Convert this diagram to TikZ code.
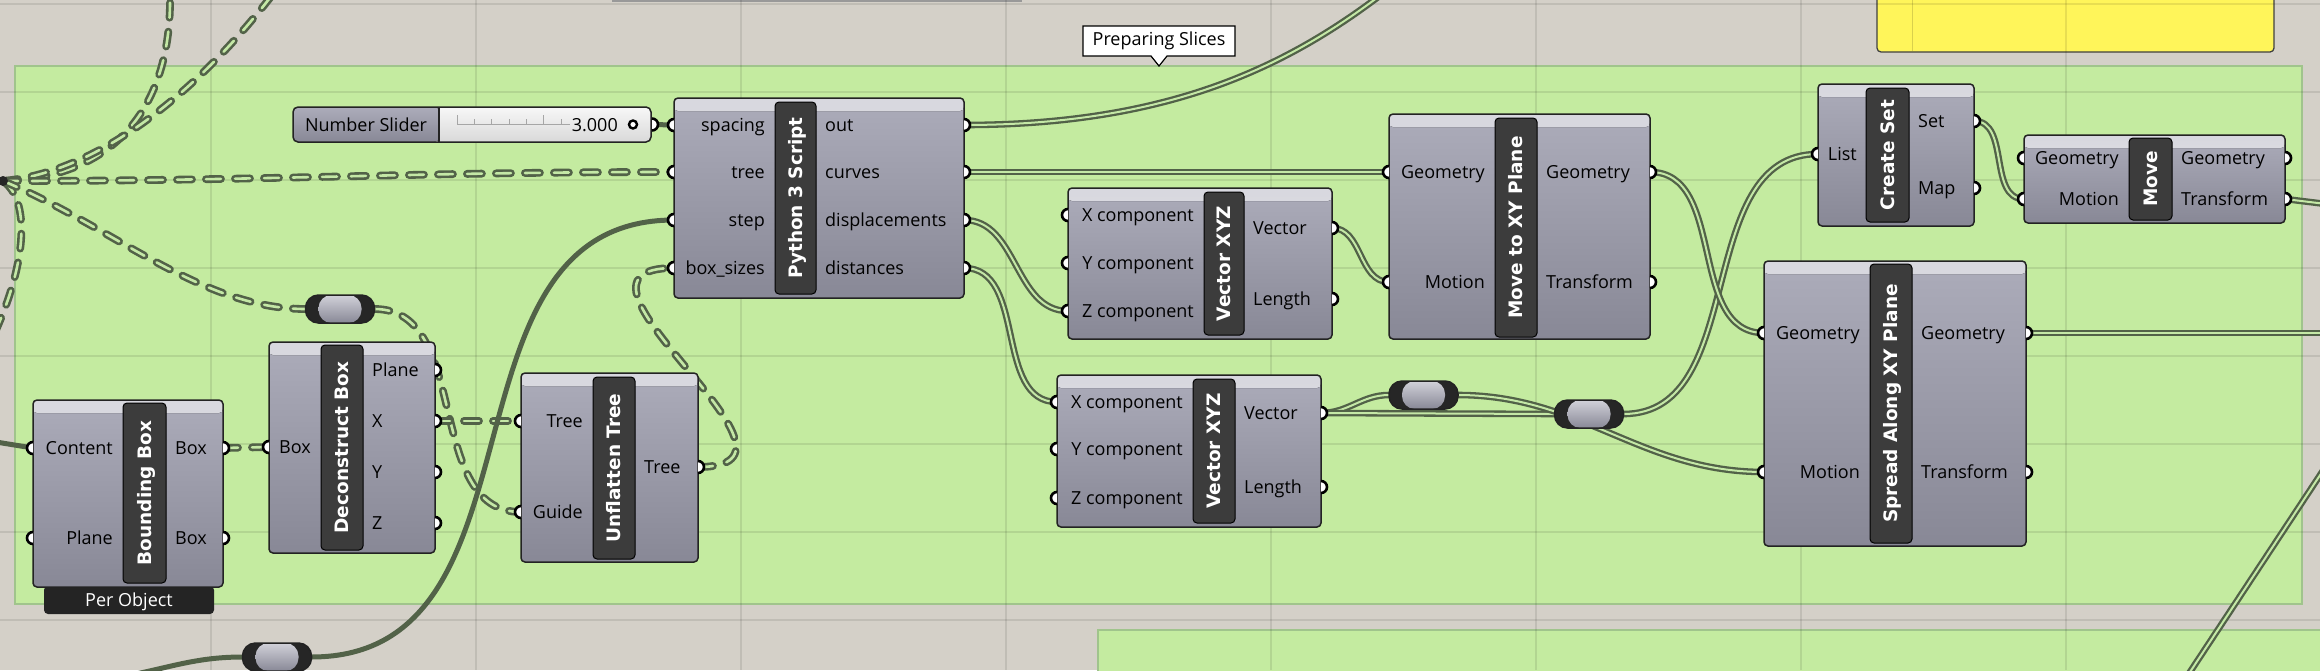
\documentclass[tikz,border=0pt]{standalone}
\usepackage{fontspec}
\newfontfamily\ghfont{DejaVu Sans}
\newfontfamily\labfam{Open Sans}
\newcommand{\labfont}{\labfam\fontsize{18}{20}\selectfont}
\newcommand{\barfont}{\ghfont\bfseries\fontsize{18.5}{20}\selectfont}
\usetikzlibrary{shapes.callouts}
\definecolor{canvas}{RGB}{212,208,200}
\definecolor{grpfill}{RGB}{196,235,160}
\definecolor{grpedge}{RGB}{160,196,140}
\definecolor{ghtop}{RGB}{172,172,186}
\definecolor{ghbot}{RGB}{136,136,150}
\definecolor{ghhi}{RGB}{234,234,238}
\definecolor{ghedge}{RGB}{35,35,35}
\definecolor{ghbar}{RGB}{60,60,60}
\definecolor{wirec}{RGB}{82,98,72}
\definecolor{wirein}{RGB}{196,232,166}
\definecolor{notey}{RGB}{255,245,90}
\tikzset{
  grp/.style={fill=grpfill, draw=grpedge, line width=1.5pt, inner sep=0pt},
  gridline/.style={draw=black, draw opacity=0.09, line width=1.5pt},
  comp/.style={draw=ghedge, line width=1.5pt, rounded corners=4pt, top color=ghtop, bottom color=ghbot, inner sep=0pt,
    path picture={\fill[top color=ghhi!70!ghtop, bottom color=ghhi] (path picture bounding box.north west) rectangle ([yshift=-13pt]path picture bounding box.north east);}},
  namebar/.style={draw=black, line width=1pt, fill=ghbar, rounded corners=4pt, rotate=90, inner sep=0pt,
    text=white, font=\barfont, text height=13.5pt, text depth=0pt},
  inlab/.style={anchor=east, inner sep=0pt, font=\labfont, text height=13pt, text depth=0pt},
  outlab/.style={anchor=west, inner sep=0pt, font=\labfont, text height=13pt, text depth=0pt},
  tab/.style={fill=black!86, rounded corners=4pt, inner sep=0pt, text=white, font=\labfont, text height=13pt, text depth=0pt},
  slider/.style={draw=ghedge, line width=1.5pt, rounded corners=5pt, top color=white!97!black, bottom color=black!15, inner sep=0pt,
    path picture={\fill[top color=ghtop, bottom color=ghbot] (path picture bounding box.north west) rectangle ([xshift=146pt]path picture bounding box.south west);
      \draw[ghedge, line width=1.3pt] ([xshift=146pt]path picture bounding box.north west) -- ([xshift=146pt]path picture bounding box.south west);}},
  relay/.style={draw=ghedge, line width=1.5pt, fill=black!85, minimum width=69pt, minimum height=28pt, rounded corners=13pt, inner sep=0pt,
    path picture={\fill[top color=ghhi!60!ghtop, bottom color=ghbot] ([xshift=13pt]path picture bounding box.north west) rectangle ([xshift=-13pt]path picture bounding box.south east);}},
  note/.style={fill=notey, draw=black!75, line width=1.3pt, rounded corners=4pt, inner sep=0pt},
  tag/.style={fill=white, draw=black, line width=1.2pt, inner sep=0pt, minimum width=152pt, minimum height=30pt, font=\labfont, callout pointer width=16pt},
  wire/.style={draw=wirec, line width=5pt},
  listwire/.style={draw=wirec, line width=2.3pt, double=wirein, double distance=2pt},
  treewire/.style={draw=wirec, line width=2.6pt, double=wirein, double distance=2.6pt, dash pattern=on 15pt off 14pt, line cap=round},
  inport/.pic={\filldraw[draw=black, fill=white, line width=2.6pt] (0,6) arc[start angle=90, end angle=270, radius=6];},
  outport/.pic={\filldraw[draw=black, fill=white, line width=2.6pt] (0,-6) arc[start angle=-90, end angle=90, radius=6];}
}
\begin{document}
\begin{tikzpicture}[x=1pt, y=1pt]
\useasboundingbox (0,0) rectangle (2320,-670);
\fill[canvas] (0,0) rectangle (2320,-670);

% things above the group
\draw[black!40, line width=1.5pt] (612,-1) -- (1022,-1);
\node[note, minimum width=397pt, minimum height=64pt] (note) at (2075.5,-20) {};
\draw[notey!85!black, line width=1pt] (1912,11) -- (1912,-51);

% groups and canvas grid
\node[grp, minimum width=2287pt, minimum height=538pt] (grp) at (1158.5,-335) {};
\node[grp, minimum width=1240pt, minimum height=80pt, anchor=north west] (grp2) at (1097,-629) {};
\foreach \x in {211,476,741,1006,1271,1536,1801,2066}
  \draw[gridline] (\x,0) -- (\x,-670);
\foreach \y in {4,92,180,268,356,444,532,620}
  \draw[gridline] (0,-\y) -- (2320,-\y);
\node[tag, rectangle callout, callout absolute pointer={(1159,-66)}] (tag) at (1159,-41) {Preparing Slices};

% free wire ends
\coordinate (src) at (3,-181);
\coordinate (up1) at (170,6);
\coordinate (up2) at (276,10);
\coordinate (dn) at (-4,-330);
\coordinate (lft) at (-4,-442);
\coordinate (bl) at (120,-677);
\coordinate (top1) at (1400,20);
\coordinate (rt1) at (2326,-204);
\coordinate (rt2) at (2326,-333);
\coordinate (rt3) at (2330,-460);
\coordinate (bt3) at (2186,-678);

% relay ends
\coordinate (r1-in) at (305.5,-309);   \coordinate (r1-out) at (374.5,-309);
\coordinate (r3-in) at (242.5,-657);   \coordinate (r3-out) at (311.5,-657);
\coordinate (r4-in) at (1389,-395);    \coordinate (r4-out) at (1458,-395);
\coordinate (r5-in) at (1554.5,-414);  \coordinate (r5-out) at (1623.5,-414);

% ports
\coordinate (sl-out) at (652,-124.5);
\coordinate (py-sp) at (674,-125);  \coordinate (py-out) at (964,-125);
\coordinate (py-tr) at (674,-172);  \coordinate (py-cv) at (964,-172);
\coordinate (py-st) at (674,-220);  \coordinate (py-dp) at (964,-220);
\coordinate (py-bs) at (674,-268);  \coordinate (py-ds) at (964,-268);
\coordinate (vx1-x) at (1068,-215); \coordinate (vx1-vec) at (1332,-228);
\coordinate (vx1-y) at (1068,-263); \coordinate (vx1-len) at (1332,-299);
\coordinate (vx1-z) at (1068,-311);
\coordinate (vx2-x) at (1057,-402); \coordinate (vx2-vec) at (1321,-413);
\coordinate (vx2-y) at (1057,-449); \coordinate (vx2-len) at (1321,-487);
\coordinate (vx2-z) at (1057,-498);
\coordinate (mxy-gi) at (1389,-172); \coordinate (mxy-go) at (1650,-172);
\coordinate (mxy-mi) at (1389,-282); \coordinate (mxy-to) at (1650,-282);
\coordinate (cs-li) at (1818,-154);  \coordinate (cs-set) at (1974,-121);
\coordinate (cs-map) at (1974,-188);
\coordinate (mv-gi) at (2024,-158);  \coordinate (mv-go) at (2285,-158);
\coordinate (mv-mi) at (2024,-199);  \coordinate (mv-to) at (2285,-199);
\coordinate (sp-gi) at (1764,-333);  \coordinate (sp-go) at (2026,-333);
\coordinate (sp-mi) at (1764,-472);  \coordinate (sp-to) at (2026,-472);
\coordinate (bb-ci) at (33,-448);    \coordinate (bb-b1) at (223,-448);
\coordinate (bb-pi) at (33,-538);    \coordinate (bb-b2) at (223,-538);
\coordinate (db-bi) at (269,-447);   \coordinate (db-pl) at (435,-370);
\coordinate (db-x) at (435,-421);    \coordinate (db-y) at (435,-472);
\coordinate (db-z) at (435,-523);
\coordinate (uf-ti) at (521,-421);   \coordinate (uf-to) at (698,-467);
\coordinate (uf-gi) at (521,-512);

% wires
\draw[treewire] (src) .. controls +(110,3) and +(2,-115) .. (up1);
\draw[treewire] (src) .. controls +(97,9) and +(-76,-100) .. (up2);
\draw[treewire] (src) .. controls +(27,-19) and +(31,70) .. (dn);
\draw[treewire] (src) to[out=0, in=180] (py-tr);
\draw[treewire] (src) .. controls +(107,-44) and +(-105,0) .. (r1-in);
\draw[treewire] (r1-out) to[out=0, in=180] (uf-gi);
\draw[treewire] (bb-b1) -- (db-bi);
\draw[treewire] (db-x) -- (uf-ti);
\draw[treewire] (uf-to) to[out=0, in=180, looseness=1.8] (py-bs);
\draw[wire] (lft) -- (bb-ci);
\draw[wire] (bl) to[out=10, in=180] (r3-in);
\draw[wire] (r3-out) to[out=0, in=180, looseness=1.1] (py-st);
\draw[wire] (sl-out) -- (py-sp);
\draw[listwire] (py-out) .. controls +(216,0) and +(-100,-80) .. (top1);
\draw[listwire] (py-cv) -- (mxy-gi);
\draw[listwire] (py-dp) to[out=0, in=180] (vx1-z);
\draw[listwire] (py-ds) to[out=0, in=180] (vx2-x);
\draw[listwire] (vx1-vec) to[out=0, in=180] (mxy-mi);
\draw[listwire] (vx2-vec) to[out=0, in=180] (r4-in);
\draw[listwire] (vx2-vec) -- (r5-in);
\draw[listwire] (r4-out) to[out=0, in=180] (sp-mi);
\draw[listwire] (r5-out) to[out=0, in=180] (cs-li);
\draw[listwire] (mxy-go) to[out=0, in=180] (sp-gi);
\draw[listwire] (cs-set) to[out=0, in=180] (mv-mi);
\draw[listwire] (mv-to) -- (rt1);
\draw[listwire] (sp-go) -- (rt2);
\draw[listwire] (rt3) -- (bt3);
\fill[black!85] (src) circle[radius=5];

% relays
\node[relay] (r1) at (340,-309) {};
\node[relay] (r3) at (277,-657) {};
\node[relay] (r4) at (1423.5,-395) {};
\node[relay] (r5) at (1589,-414) {};

% number slider
\node[slider, minimum width=358pt, minimum height=35pt] (sl) at (472,-124.5) {};
\node[font=\labfont, text height=13pt, text depth=0pt, inner sep=0pt] (sl-name) at (366,-124.5) {Number Slider};
\draw[black!35, line width=0.8pt] (457,-124) -- (570,-124);
\foreach \x in {474.3,491.7,509,526.3,561}
  \draw[black!35, line width=0.8pt] (\x,-124) -- (\x,-119);
\foreach \x in {457,543.7}
  \draw[black!35, line width=0.8pt] (\x,-124) -- (\x,-115);
\node[anchor=east, font=\labfont, text height=13pt, text depth=0pt, inner sep=0pt] (sl-val) at (618,-124.5) {3.000};
\draw[black, line width=2.4pt, fill=white] (633,-124.5) circle[radius=4];

% Python 3 Script
\node[comp, minimum width=290pt, minimum height=200pt] (py) at (819,-198) {};
\node[namebar, minimum width=192pt, minimum height=41pt] (py-name) at (795.5,-198) {Python 3 Script};
\node[inlab] (py-l1) at (765,-125) {spacing};
\node[inlab] (py-l2) at (765,-172) {tree};
\node[inlab] (py-l3) at (765,-220) {step};
\node[inlab] (py-l4) at (765,-268) {box\_sizes};
\node[outlab] (py-l5) at (825,-125) {out};
\node[outlab] (py-l6) at (825,-172) {curves};
\node[outlab] (py-l7) at (825,-220) {displacements};
\node[outlab] (py-l8) at (825,-268) {distances};

% Vector XYZ (upper)
\node[comp, minimum width=264pt, minimum height=151pt] (vx1) at (1200,-263.5) {};
\node[namebar, minimum width=143pt, minimum height=40pt] (vx1-name) at (1224,-263.5) {Vector XYZ};
\node[inlab] (vx1-l1) at (1194,-215) {X component};
\node[inlab] (vx1-l2) at (1194,-263) {Y component};
\node[inlab] (vx1-l3) at (1194,-311) {Z component};
\node[outlab] (vx1-l4) at (1253,-228) {Vector};
\node[outlab] (vx1-l5) at (1253,-299) {Length};

% Vector XYZ (lower)
\node[comp, minimum width=264pt, minimum height=152pt] (vx2) at (1189,-451) {};
\node[namebar, minimum width=144pt, minimum height=42pt] (vx2-name) at (1214,-451) {Vector XYZ};
\node[inlab] (vx2-l1) at (1183,-402) {X component};
\node[inlab] (vx2-l2) at (1183,-449) {Y component};
\node[inlab] (vx2-l3) at (1183,-498) {Z component};
\node[outlab] (vx2-l4) at (1244,-413) {Vector};
\node[outlab] (vx2-l5) at (1244,-487) {Length};

% Move to XY Plane
\node[comp, minimum width=261pt, minimum height=225pt] (mxy) at (1519.5,-226.5) {};
\node[namebar, minimum width=219pt, minimum height=42pt] (mxy-name) at (1516,-227.5) {Move to XY Plane};
\node[inlab] (mxy-l1) at (1485,-172) {Geometry};
\node[inlab] (mxy-l2) at (1485,-282) {Motion};
\node[outlab] (mxy-l3) at (1546,-172) {Geometry};
\node[outlab] (mxy-l4) at (1546,-282) {Transform};

% Create Set
\node[comp, minimum width=156pt, minimum height=142pt] (cs) at (1896,-155) {};
\node[namebar, minimum width=134pt, minimum height=43pt] (cs-name) at (1887.5,-155) {Create Set};
\node[inlab] (cs-l1) at (1857,-154) {List};
\node[outlab] (cs-l2) at (1918,-121) {Set};
\node[outlab] (cs-l3) at (1918,-188) {Map};

% Move
\node[comp, minimum width=261pt, minimum height=88pt] (mv) at (2154.5,-179) {};
\node[namebar, minimum width=82pt, minimum height=43pt] (mv-name) at (2150.5,-179) {Move};
\node[inlab] (mv-l1) at (2119,-158) {Geometry};
\node[inlab] (mv-l2) at (2119,-199) {Motion};
\node[outlab] (mv-l3) at (2181,-158) {Geometry};
\node[outlab] (mv-l4) at (2181,-199) {Transform};

% Spread Along XY Plane
\node[comp, minimum width=262pt, minimum height=285pt] (sp) at (1895,-403.5) {};
\node[namebar, minimum width=279pt, minimum height=42pt] (sp-name) at (1891,-403.5) {Spread Along XY Plane};
\node[inlab] (sp-l1) at (1860,-333) {Geometry};
\node[inlab] (sp-l2) at (1860,-472) {Motion};
\node[outlab] (sp-l3) at (1921,-333) {Geometry};
\node[outlab] (sp-l4) at (1921,-472) {Transform};

% Bounding Box
\node[tab, minimum width=170pt, minimum height=28pt] (bb-tab) at (129,-600) {Per Object};
\node[comp, minimum width=190pt, minimum height=187pt] (bb) at (128,-493.5) {};
\node[namebar, minimum width=180pt, minimum height=43pt] (bb-name) at (144.5,-493) {Bounding Box};
\node[inlab] (bb-l1) at (113,-448) {Content};
\node[inlab] (bb-l2) at (113,-538) {Plane};
\node[outlab] (bb-l3) at (175,-448) {Box};
\node[outlab] (bb-l4) at (175,-538) {Box};

% Deconstruct Box
\node[comp, minimum width=166pt, minimum height=211pt] (db) at (352,-447.5) {};
\node[namebar, minimum width=205pt, minimum height=42pt] (db-name) at (342,-447.5) {Deconstruct Box};
\node[inlab] (db-l1) at (311,-447) {Box};
\node[outlab] (db-l2) at (372,-370) {Plane};
\node[outlab] (db-l3) at (372,-421) {X};
\node[outlab] (db-l4) at (372,-472) {Y};
\node[outlab] (db-l5) at (372,-523) {Z};

% Unflatten Tree
\node[comp, minimum width=177pt, minimum height=189pt] (uf) at (609.5,-467.5) {};
\node[namebar, minimum width=182pt, minimum height=42pt] (uf-name) at (614,-468) {Unflatten Tree};
\node[inlab] (uf-l1) at (583,-421) {Tree};
\node[inlab] (uf-l2) at (583,-512) {Guide};
\node[outlab] (uf-l3) at (644,-467) {Tree};

% ports on top
\foreach \p in {py-sp,py-tr,py-st,py-bs,vx1-x,vx1-y,vx1-z,vx2-x,vx2-y,vx2-z,mxy-gi,mxy-mi,cs-li,mv-gi,mv-mi,sp-gi,sp-mi,bb-ci,bb-pi,db-bi,uf-ti,uf-gi}
  \pic at (\p) {inport};
\foreach \p in {sl-out,py-out,py-cv,py-dp,py-ds,vx1-vec,vx1-len,vx2-vec,vx2-len,mxy-go,mxy-to,cs-set,cs-map,mv-go,mv-to,sp-go,sp-to,bb-b1,bb-b2,db-pl,db-x,db-y,db-z,uf-to}
  \pic at (\p) {outport};
\end{tikzpicture}
\end{document}
